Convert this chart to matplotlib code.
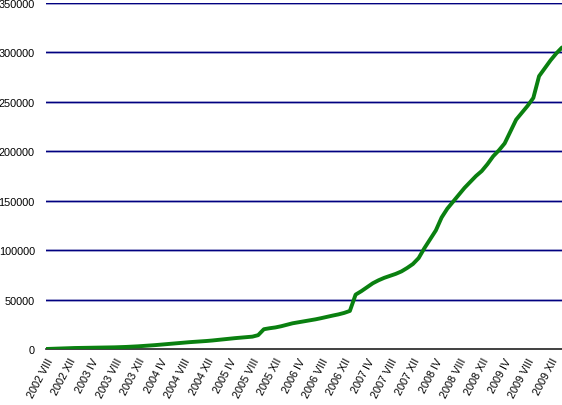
import matplotlib.pyplot as plt
import numpy as np

lineColor = "#0a8010"
gridColor = "#000080"

# monthly totals, Aug 2002 .. Feb 2010
values = [0, 200, 400, 600, 800, 1000, 1100, 1200, 1300, 1400,
          1500, 1600, 1700, 1900, 2100, 2400, 2700, 3100, 3500, 3900,
          4400, 4900, 5400, 5900, 6400, 6900, 7300, 7700, 8100, 8600,
          9200, 9800, 10400, 11000, 11500, 12000, 12500, 14000, 20000, 21000,
          21800, 23000, 24500, 26000, 27000, 28000, 29000, 30000, 31200, 32500,
          33800, 35000, 36500, 38500, 55000, 58500, 62500, 66500, 69500, 72000,
          74000, 76000, 78500, 82000, 86000, 92000, 102000, 111000, 120000, 133000,
          142000, 149000, 156000, 163000, 169000, 175000, 180000, 187000, 195000, 201000,
          208000, 220000, 232000, 239000, 246000, 254000, 276000, 284000, 292000, 299000,
          305000]

tickLabels = ["2002 VIII", "2002 XII",
              "2003 IV", "2003 VIII", "2003 XII",
              "2004 IV", "2004 VIII", "2004 XII",
              "2005 IV", "2005 VIII", "2005 XII",
              "2006 IV", "2006 VIII", "2006 XII",
              "2007 IV", "2007 VIII", "2007 XII",
              "2008 IV", "2008 VIII", "2008 XII",
              "2009 IV", "2009 VIII", "2009 XII"]
yTicks = [0, 50000, 100000, 150000, 200000, 250000, 300000, 350000]

plt.rcParams['font.family'] = ['Liberation Sans', 'DejaVu Sans']

fig = plt.figure(figsize=(5.62, 4.06), dpi=100)
ax = fig.add_axes([46 / 562, 56 / 406, 516 / 562, 346 / 406])

for v in yTicks[1:]:
    ax.axhline(v, color="#a0a0d0", linewidth=1.8, zorder=1)
    ax.axhline(v, color=gridColor, linewidth=0.9, zorder=1)

ax.plot(range(len(values)), values, color=lineColor, linewidth=2.8, zorder=3,
        solid_joinstyle='round', solid_capstyle='round')

ax.set_xlim(0, len(values) - 1)
ax.set_ylim(0, 350000)
ax.set_yticks(yTicks)
ax.set_yticklabels([str(v) for v in yTicks], fontsize=7.8)
ax.set_xticks(range(0, 4 * len(tickLabels), 4))
ax.set_xticklabels(tickLabels, fontsize=7.8, rotation=62, ha='right',
                   rotation_mode='anchor')
ax.tick_params(length=0, pad=8)
ax.tick_params(axis='x', pad=5)

for s in ['top', 'right', 'left']:
    ax.spines[s].set_visible(False)
ax.spines['bottom'].set_color('#202020')
ax.spines['bottom'].set_linewidth(1.2)
ax.spines['bottom'].set_zorder(2)

fig.savefig("out.png", dpi=100)
